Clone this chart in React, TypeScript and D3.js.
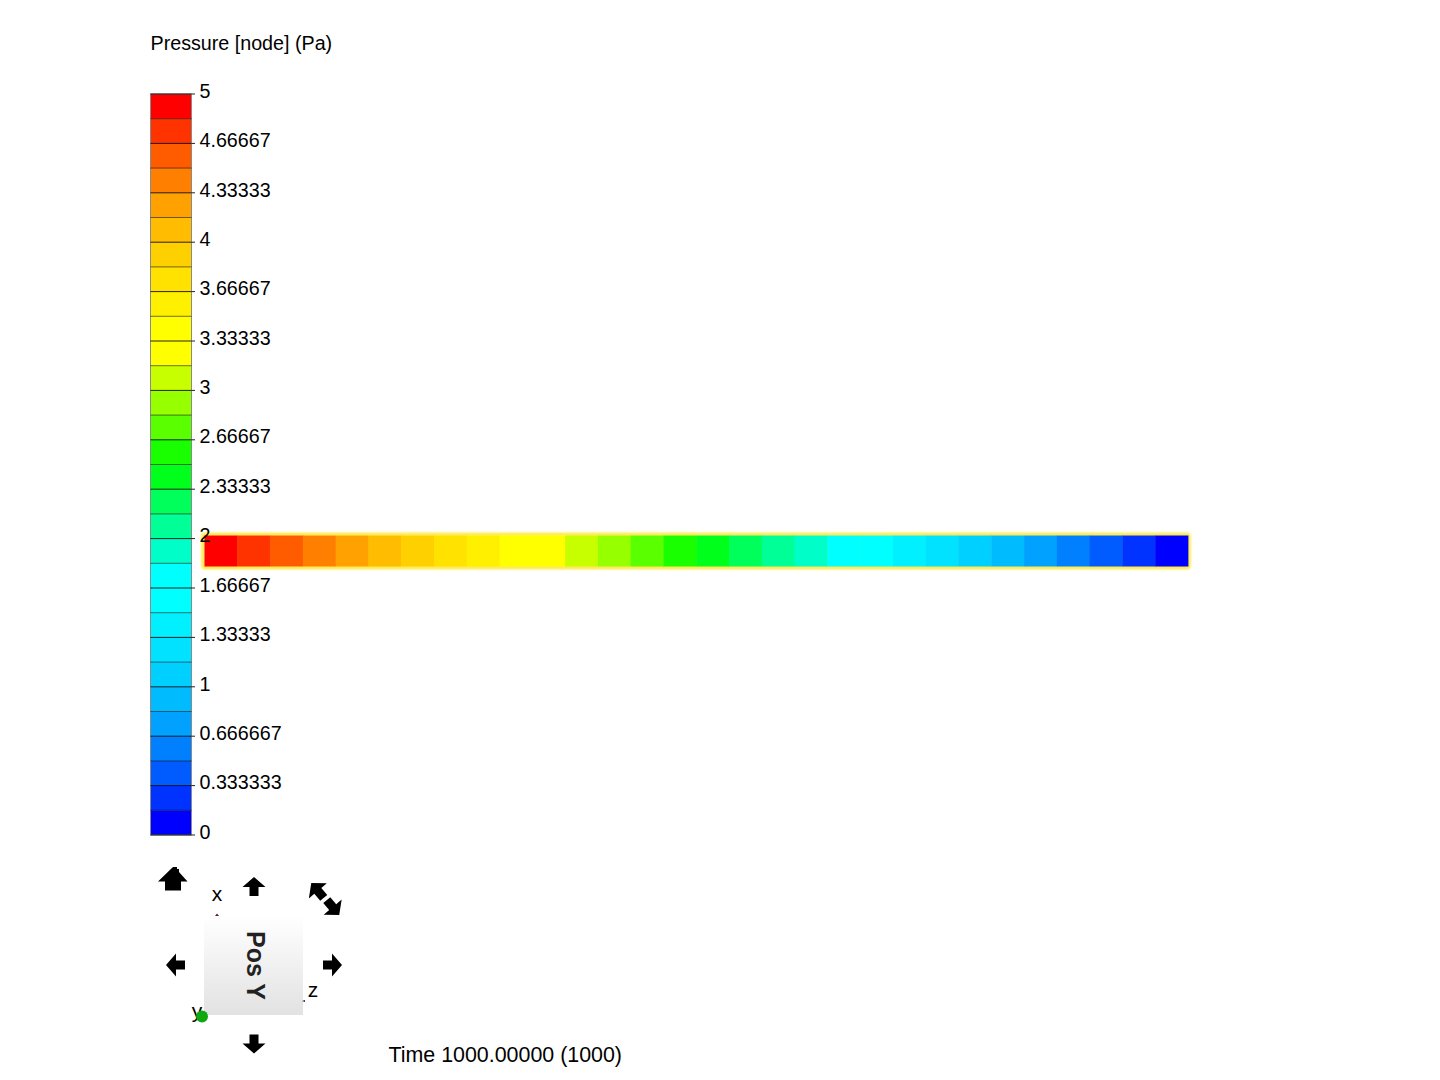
import React from "react";
import * as d3 from "d3";

const chartTitle = "Pressure [node] (Pa)";
const timeLabel = "Time 1000.00000 (1000)";
const tickValues = [5, 4.66667, 4.33333, 4, 3.66667, 3.33333, 3, 2.66667, 2.33333, 2, 1.66667, 1.33333, 1, 0.666667, 0.333333, 0];
const tickLabels = ["5", "4.66667", "4.33333", "4", "3.66667", "3.33333", "3", "2.66667", "2.33333", "2", "1.66667", "1.33333", "1", "0.666667", "0.333333", "0"];
// Low to high, one per legend band
const bandColors = [
  "#0000ff", "#0033ff", "#005cff", "#0080ff", "#00a1ff", "#00bcff", "#00d0ff", "#00e2ff", "#00f0ff", "#00ffff",
  "#00ffff", "#00ffc8", "#00ff96", "#00ff5a", "#00ff1a", "#1aff00", "#5aff00", "#96ff00", "#c8ff00", "#ffff00",
  "#ffff00", "#fff000", "#ffe200", "#ffd000", "#ffbc00", "#ffa100", "#ff8000", "#ff5c00", "#ff3300", "#ff0000",
];
// Pressure of each of the pipe's 30 elements, inlet to outlet
const pipePressure = [
  4.92, 4.75, 4.58, 4.42, 4.25, 4.08, 3.92, 3.75, 3.58, 3.42,
  3.25, 3.08, 2.92, 2.75, 2.58, 2.42, 2.25, 2.08, 1.92, 1.75,
  1.58, 1.42, 1.25, 1.08, 0.92, 0.75, 0.58, 0.42, 0.25, 0.08,
];
const arrows = [
  { x: 254, y: 886.5, r: 0, s: 1 },
  { x: 175.5, y: 965, r: -90, s: 1 },
  { x: 332.5, y: 965, r: 90, s: 1 },
  { x: 254, y: 1044, r: 180, s: 1 },
  { x: 317.5, y: 890.5, r: -40, s: 1.02 },
  { x: 333, y: 907.5, r: 140, s: 1.02 },
];

const FONT = "'Liberation Sans', Arial, sans-serif";
const FS = 19.7;
const ARROW = "M0,-9.5 L11.5,0.5 L4.5,0.5 L4.5,9.5 L-4.5,9.5 L-4.5,0.5 L-11.5,0.5 Z";

export default function App() {
  const y = d3.scaleLinear().domain([0, 5]).range([835, 94]);
  const color = d3.scaleQuantize<string>().domain([0, 5]).range(bandColors);
  const bandEdges = d3.range(bandColors.length + 1).map((i) => (i * 5) / bandColors.length);
  const x = d3.scaleBand<number>().domain(d3.range(pipePressure.length)).range([204.5, 1188]);
  const barX0 = 150.5;
  const barX1 = 191.5;

  return (
    <svg
      width={1440}
      height={1080}
      viewBox="0 0 1440 1080"
      style={{ position: "absolute", left: 0, top: 0, background: "#fff" }}
      fontFamily={FONT}
      fontSize={FS}
    >
      <defs>
        <linearGradient id="cube" x1="0" y1="0" x2="0" y2="1">
          <stop offset="0" stopColor="#ffffff" />
          <stop offset="1" stopColor="#e2e2e2" />
        </linearGradient>
        <filter id="soft" x="-2%" y="-30%" width="104%" height="160%">
          <feGaussianBlur stdDeviation="0.9" />
        </filter>
      </defs>

      <text x={150.5} y={49.5} fill="#000">{chartTitle}</text>

      {/* pipe */}
      <rect x={203} y={534.5} width={986} height={33} rx={2} fill="none" stroke="#ffe83c" strokeWidth={3.4} filter="url(#soft)" />
      <rect x={204.5} y={536} width={983.5} height={30.5} fill="#ffe83c" />
      {pipePressure.map((p, i) => (
        <rect key={i} x={x(i)} y={535.5} width={x.bandwidth() + 0.4} height={31} fill={color(p)} />
      ))}

      {/* colour bar */}
      {bandColors.map((c, i) => (
        <rect key={i} x={barX0} y={y(bandEdges[i + 1])} width={barX1 - barX0} height={y(bandEdges[i]) - y(bandEdges[i + 1])} fill={c} />
      ))}
      <rect x={barX0} y={94} width={barX1 - barX0} height={741} fill="none" stroke="#8a8a8a" strokeWidth={1} />
      {bandEdges.map((v, i) => (
        <line key={i} x1={barX0} x2={barX1} y1={y(v)} y2={y(v)} stroke="#000" strokeOpacity={i % 2 === 0 ? 0.85 : 0.55} strokeWidth={1} />
      ))}
      {tickValues.map((v, i) => (
        <g key={tickLabels[i]}>
          <line x1={barX1} x2={195} y1={y(v)} y2={y(v)} stroke="#222" strokeWidth={1} />
          <text x={199.5} y={y(v) + 3.7} fill="#000">{tickLabels[i]}</text>
        </g>
      ))}

      {/* view cube */}
      <rect x={204} y={916} width={99} height={99} fill="url(#cube)" />
      <text
        transform="translate(255.5,965.5) rotate(90)"
        textAnchor="middle"
        dominantBaseline="central"
        fontSize={25}
        fontWeight="bold"
        fill="#222"
      >
        Pos Y
      </text>
      <text x={217} y={901} textAnchor="middle" fontSize={21} fill="#000">x</text>
      <path d="M217,913.5 L219,916 L215,916 Z" fill="#5a1a1a" />
      <text x={313} y={997} textAnchor="middle" fontSize={21} fill="#000">z</text>
      <path d="M302,1001 L305,1000 L305,1002 Z" fill="#1a1a5a" />
      <text x={197} y={1018} textAnchor="middle" fontSize={21} fill="#000">y</text>
      <circle cx={202} cy={1016.5} r={6} fill="#10a810" />

      {/* navigation icons */}
      <path d="M158,881.5 L173,867 L177,867 L177,869 L179,869 L179,872 L187.5,881.5 L181,881.5 L181,890.5 L165,890.5 L165,881.5 Z" fill="#000" />
      {arrows.map((a, i) => (
        <path key={i} d={ARROW} transform={`translate(${a.x},${a.y}) rotate(${a.r}) scale(${a.s})`} fill="#000" />
      ))}

      <text x={388.5} y={1062} fontSize={21.4} fill="#000">{timeLabel}</text>
    </svg>
  );
}
